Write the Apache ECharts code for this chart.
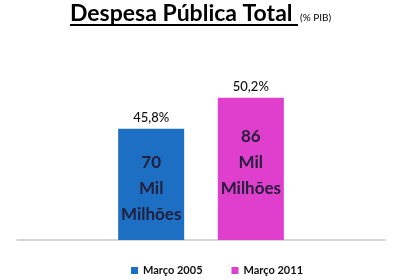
<!DOCTYPE html>
<html><head><meta charset="utf-8">
<script src="https://cdn.jsdelivr.net/npm/echarts@6/dist/echarts.min.js"></script>
<style>html,body{margin:0;padding:0;background:#fff}#c{width:400px;height:280px}</style>
</head><body><div id="c"></div>
<script>
var seriesNames = ['Março 2005', 'Março 2011'];
var seriesValues = [45.8, 50.2];
var topLabels = ['45,8%', '50,2%'];
var innerLabels = [['70', 'Mil', 'Milhões'], ['86', 'Mil', 'Milhões']];
var colors = ['#1c6fc2', '#e03fcd'];
var innerDistance = [21, 26];

var chart = echarts.init(document.getElementById('c'));
var series = [];
seriesNames.forEach(function (name, i) {
  series.push({
    name: name, type: 'bar', xAxisIndex: 0, data: [seriesValues[i]],
    barWidth: 66, barGap: '51%',
    itemStyle: { color: colors[i] },
    label: { show: true, position: 'top', distance: 4, formatter: topLabels[i],
      fontFamily: 'Lato', fontSize: 13, fontWeight: 500, color: '#111' }
  });
});
seriesNames.forEach(function (name, i) {
  series.push({
    name: name + ' ', type: 'bar', xAxisIndex: 1, data: [seriesValues[i]],
    barWidth: 66, barGap: '51%', silent: true,
    itemStyle: { color: 'transparent' },
    label: { show: true, position: 'insideTop', distance: innerDistance[i],
      formatter: innerLabels[i].join('\n'),
      fontFamily: 'Lato', fontWeight: 'bold', fontSize: 17, lineHeight: 26, color: '#24203c' }
  });
});

chart.setOption({
  animation: false,
  legend: { data: seriesNames, left: 126, top: 260, icon: 'rect', itemWidth: 7, itemHeight: 7, itemGap: 29,
    textStyle: { fontFamily: 'Lato', fontSize: 11, color: '#111', fontWeight: 'bold' } },
  grid: { left: 17, right: 15, top: 64, bottom: 40 },
  xAxis: [
    { type: 'category', data: [''], axisLine: { lineStyle: { color: '#c8c8c8', width: 1.5 } },
      axisTick: { show: false }, axisLabel: { show: false } },
    { type: 'category', data: [''], show: false }
  ],
  yAxis: { type: 'value', min: 30, max: 55, show: false, splitLine: { show: false } },
  graphic: [
    { type: 'text', left: 70, top: 2, style: { text: 'Despesa Pública Total', fontFamily: 'Lato', fontWeight: 'bold', fontSize: 23, fill: '#000' } },
    { type: 'text', left: 300, top: 13, style: { text: '(% PIB)', fontFamily: 'Lato', fontSize: 10, fill: '#000' } },
    { type: 'line', shape: { x1: 70, y1: 25, x2: 298, y2: 25 }, style: { stroke: '#000', lineWidth: 2 } }
  ],
  series: series
});
</script></body></html>
